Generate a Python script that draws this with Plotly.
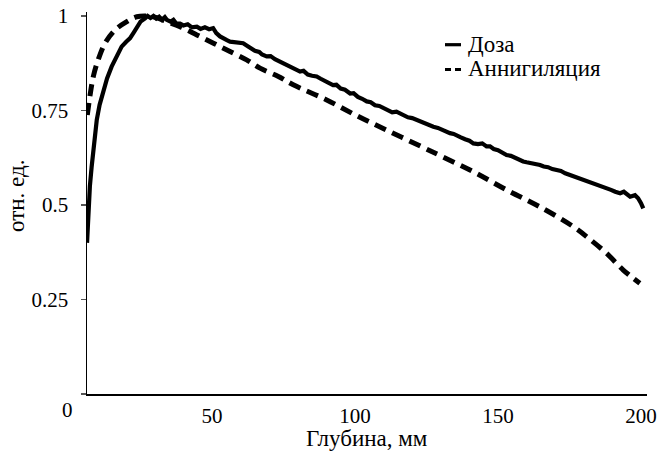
import plotly.graph_objects as go

# ---- data ----
dose_x = [6.3, 6.7, 7.3, 7.9, 8.7, 9.7, 10.7, 11.9, 13.3, 14.9, 16.5, 18.4, 20.0, 21.3, 22.5,
          23.7, 25.0, 26.6, 27.5, 28.5, 29.5, 30.5, 31.5, 32.5, 33.5, 34.2, 35.5, 36.5, 37.5,
          38.8, 40.0, 41.5, 43.0, 44.7, 46.0, 47.5, 49.0, 50.4, 51.5, 52.8, 54.0, 55.2, 56.3,
          58.0, 59.5, 60.9, 62.5, 63.5, 65.0, 66.5, 67.5, 69.1, 70.5, 72.0, 73.5, 74.8, 76.5,
          78.0, 79.5, 80.8, 82.0, 83.5, 85.0, 86.6, 88.0, 89.5, 91.0, 92.3, 93.5, 95.0, 96.5,
          98.3, 99.5, 101.0, 102.5, 104.1, 105.5, 107.0, 108.5, 109.9, 111.5, 113.0, 114.5,
          115.7, 117.0, 118.5, 120.0, 121.5, 123.0, 124.5, 126.0, 127.4, 129.0, 130.5, 132.0,
          133.2, 134.5, 135.6, 137.0, 138.5, 140.0, 141.4, 143.0, 144.5, 146.0, 147.2, 148.5,
          150.0, 151.5, 153.0, 154.5, 156.0, 157.5, 158.8, 160.0, 161.5, 163.0, 164.7, 166.0,
          167.5, 169.0, 170.5, 172.0, 173.5, 175.0, 176.3, 177.5, 179.0, 180.5, 182.2, 183.5,
          185.0, 186.5, 188.0, 189.5, 191.0, 192.7, 194.0, 195.2, 196.2, 197.9, 199.0, 200.0,
          200.8]
dose_y = [0.40, 0.49, 0.55, 0.60, 0.66, 0.725, 0.765, 0.80, 0.835, 0.866, 0.89, 0.919, 0.932,
          0.941, 0.955, 0.972, 0.985, 0.994, 1.0, 0.995, 1.0, 0.993, 0.998, 0.99, 0.997, 0.99,
          0.985, 0.99, 0.98, 0.98, 0.975, 0.978, 0.97, 0.972, 0.966, 0.97, 0.965, 0.968, 0.955,
          0.946, 0.94, 0.936, 0.932, 0.93, 0.93, 0.928, 0.92, 0.914, 0.908, 0.905, 0.898, 0.893,
          0.894, 0.886, 0.88, 0.875, 0.868, 0.864, 0.858, 0.853, 0.855, 0.845, 0.842, 0.84,
          0.834, 0.828, 0.822, 0.817, 0.818, 0.808, 0.805, 0.795, 0.796, 0.786, 0.781, 0.774,
          0.772, 0.764, 0.762, 0.756, 0.752, 0.745, 0.747, 0.742, 0.736, 0.732, 0.73, 0.725,
          0.72, 0.717, 0.71, 0.707, 0.704, 0.698, 0.695, 0.69, 0.688, 0.685, 0.679, 0.674, 0.67,
          0.663, 0.661, 0.663, 0.655, 0.655, 0.648, 0.645, 0.638, 0.632, 0.63, 0.624, 0.62,
          0.615, 0.613, 0.611, 0.608, 0.606, 0.602, 0.6, 0.595, 0.593, 0.59, 0.584, 0.58, 0.577,
          0.574, 0.568, 0.565, 0.559, 0.557, 0.552, 0.548, 0.544, 0.54, 0.535, 0.531, 0.535,
          0.527, 0.522, 0.526, 0.518, 0.505, 0.491]

ann_x = [6.4, 7.3, 8.5, 10.2, 12.6, 16.1, 20.2, 23.7, 27.0, 30.0, 34.2, 38.8, 44.7, 50.5, 56.3,
         62.1, 66.8, 73.2, 78.4, 90.1, 101.2, 112.2, 123.9, 129.7, 141.4, 153.0, 164.7, 176.3,
         182.0, 188.0, 193.8, 199.6]
ann_y = [0.738, 0.787, 0.84, 0.884, 0.928, 0.963, 0.985, 0.998, 1.0, 0.997, 0.985, 0.972, 0.95,
         0.928, 0.906, 0.884, 0.862, 0.84, 0.818, 0.778, 0.734, 0.694, 0.652, 0.631, 0.588,
         0.54, 0.495, 0.443, 0.41, 0.372, 0.328, 0.293]

series_names = ["Доза", "Аннигиляция"]
x_ticks = [50, 100, 150, 200]
y_ticks = [0, 0.25, 0.5, 0.75, 1]
y_tick_text = ["", "0.25", "0.5", "0.75", "1"]
x_title = "Глубина, мм"
y_title = "отн. ед."

FONT = "'Liberation Serif', 'Times New Roman', Times, serif"
FS = 21      # tick labels
FT = 23      # titles and legend text

fig = go.Figure()
fig.add_trace(go.Scatter(x=dose_x, y=dose_y, mode="lines", name=series_names[0],
                         line=dict(color="black", width=4.2), showlegend=False))
fig.add_trace(go.Scatter(x=ann_x, y=ann_y, mode="lines", name=series_names[1],
                         line=dict(color="black", width=5, dash="12px,7px", shape="spline"),
                         showlegend=False))

W, H = 662, 456
L, R, T, B = 87, 15, 12, 62
pw, ph = W - L - R, H - T - B

def px(xp):
    return (xp - L) / pw

def py(yp):
    return (H - B - yp) / ph

fig.update_layout(
    width=W, height=H,
    margin=dict(l=L, r=R, t=T, b=B, autoexpand=False),
    paper_bgcolor="white", plot_bgcolor="white",
    font=dict(family=FONT, size=FS, color="black"),
    xaxis=dict(range=[6.29, 202.1], tickvals=x_ticks, ticks="", showgrid=False,
               zeroline=False, showline=True, linecolor="black", linewidth=1.5,
               automargin=False,
               tickfont=dict(family=FONT, size=FS), ticklabelstandoff=2),
    yaxis=dict(range=[0, 1.0106], tickvals=y_ticks, ticktext=y_tick_text, ticks="outside",
               ticklen=5, tickwidth=1.2, tickcolor="#555", showgrid=False, zeroline=False,
               showline=True, linecolor="black", linewidth=1.5, automargin=False,
               tickfont=dict(family=FONT, size=FS), ticklabelstandoff=8),
)

annotations = [
    dict(text="0", xref="paper", yref="paper", x=px(67.5), y=py(410), showarrow=False,
         xanchor="center", yanchor="middle", font=dict(family=FONT, size=FS)),
    dict(text=x_title, xref="paper", yref="paper", x=px(367), y=py(438), showarrow=False,
         xanchor="center", yanchor="middle", font=dict(family=FONT, size=FT)),
    dict(text=y_title, xref="paper", yref="paper", x=px(17), y=py(196), showarrow=False,
         textangle=-90, xanchor="center", yanchor="middle", font=dict(family=FONT, size=FT)),
    dict(text=series_names[0], xref="paper", yref="paper", x=px(466), y=py(45),
         showarrow=False, xanchor="left", yanchor="middle", font=dict(family=FONT, size=FT)),
    dict(text=series_names[1], xref="paper", yref="paper", x=px(466), y=py(68),
         showarrow=False, xanchor="left", yanchor="middle", font=dict(family=FONT, size=FT)),
]
fig.update_layout(annotations=annotations)

shapes = [
    dict(type="line", xref="paper", yref="paper", x0=px(445), x1=px(461), y0=py(44.7),
         y1=py(44.7), line=dict(color="black", width=3.2)),
    dict(type="line", xref="paper", yref="paper", x0=px(445), x1=px(461), y0=py(69.5),
         y1=py(69.5), line=dict(color="black", width=3.2, dash="6px,4px")),
]
fig.update_layout(shapes=shapes)

fig.write_html("out.html",
               config={"displayModeBar": False, "staticPlot": True},
               post_script="document.body.style.margin='0';document.body.style.overflow='hidden';")
